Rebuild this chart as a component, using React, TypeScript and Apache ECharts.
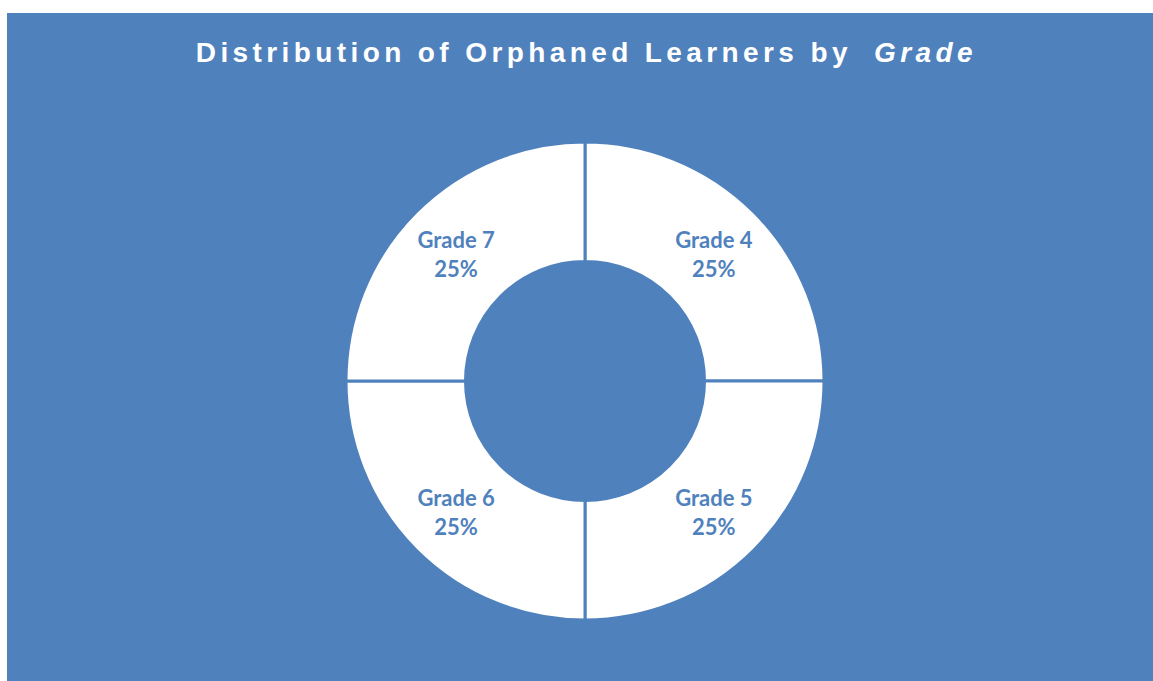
import React, { useEffect, useRef } from "react";
import * as echarts from "echarts";

const grades = ["Grade 4", "Grade 5", "Grade 6", "Grade 7"];
const shares = [25, 25, 25, 25];
const titleMain = "Distribution of Orphaned Learners by";
const titleItalic = "Grade";

const BLUE = "#4F81BD";
// letter-spaced title font (SVG renderer writes font-family into the style attribute)
const TITLE_FONT = "Liberation Sans;letter-spacing:4.4px";

export default function App() {
  const ref = useRef<HTMLDivElement>(null);
  useEffect(() => {
    if (!ref.current) return;
    const chart = echarts.init(ref.current, null, { renderer: "svg" });
    chart.setOption({
      animation: false,
      backgroundColor: BLUE,
      graphic: [
        {
          type: "text",
          x: 845,
          y: 39,
          silent: true,
          style: {
            text: titleMain,
            align: "right",
            verticalAlign: "middle",
            fontFamily: TITLE_FONT,
            fontWeight: "bold",
            fontSize: 28,
            fill: "#FFFFFF",
          },
        },
        {
          type: "text",
          x: 867,
          y: 39,
          silent: true,
          style: {
            text: titleItalic,
            align: "left",
            verticalAlign: "middle",
            fontFamily: TITLE_FONT,
            fontWeight: "bold",
            fontStyle: "italic",
            fontSize: 28,
            fill: "#FFFFFF",
          },
        },
      ],
      series: [
        {
          type: "pie",
          center: [578, 368],
          radius: [119.5, 239],
          startAngle: 90,
          clockwise: true,
          silent: true,
          itemStyle: { color: "#FFFFFF", borderColor: BLUE, borderWidth: 3 },
          label: {
            show: true,
            position: "inside",
            formatter: "{b}\n{d}%",
            color: BLUE,
            fontFamily: "Lato",
            fontWeight: "bold",
            fontSize: 22,
            lineHeight: 29,
            offset: [0, 2],
          },
          labelLine: { show: false },
          data: grades.map((g, i) => ({ name: g, value: shares[i] })),
        },
      ],
    });
    return () => chart.dispose();
  }, []);
  return (
    <div
      ref={ref}
      style={{ position: "absolute", left: 7, top: 13, width: 1146, height: 668 }}
    />
  );
}
